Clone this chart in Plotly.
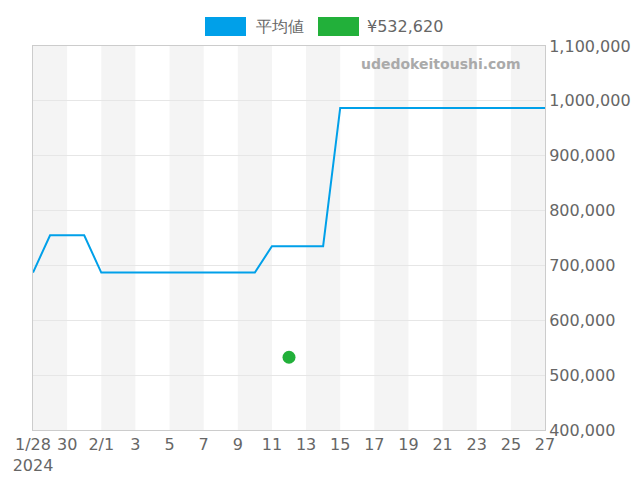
import plotly.graph_objects as go
import pandas as pd

dates = pd.date_range("2024-01-28", "2024-02-27", freq="D")
avg_values = [687000, 755000, 755000, 755000] + [687000]*10 + [735000]*4 + [987000]*13
point_date = ["2024-02-12"]
point_value = [532620]
tick_vals = pd.date_range("2024-01-28", "2024-02-27", freq="2D")
tick_text = ["1/28<br>2024", "30", "2/1"] + [str(d.day) for d in tick_vals[3:]]

L, R, T, B = 25, 537, 38, 422
def px(x): return (x - L) / (R - L)
def py(y): return (B - y) / (B - T)

fig = go.Figure()
fig.add_trace(go.Scatter(x=dates, y=avg_values, mode="lines", name="平均値",
                         line=dict(color="#00a0e9", width=2)))
fig.add_trace(go.Scatter(x=point_date, y=point_value, mode="markers", name="¥532,620",
                         marker=dict(color="#22b03a", size=13)))
shapes = []
for i in range(0, 30, 4):
    s = dates[0] + pd.Timedelta(days=i)
    shapes.append(dict(type="rect", xref="x", yref="paper", x0=s, x1=s + pd.Timedelta(days=2),
                       y0=0, y1=1, fillcolor="#f4f4f4", line_width=0, layer="below"))
for x0, x1, c in [(197, 238, "#00a0e9"), (310, 351, "#22b03a")]:
    shapes.append(dict(type="rect", xref="paper", yref="paper", x0=px(x0), x1=px(x1),
                       y0=py(28), y1=py(9), fillcolor=c, line_width=0))
annotations = [
    dict(text="<b>udedokeitoushi.com</b>", xref="paper", yref="paper", x=px(515), y=py(56),
         xanchor="right", yanchor="middle", showarrow=False, font=dict(size=14, color="#aaa")),
    dict(text="平均値", xref="paper", yref="paper", x=px(246), y=py(19), xanchor="left",
         yanchor="middle", showarrow=False, font=dict(size=16, color="#666")),
    dict(text="¥532,620", xref="paper", yref="paper", x=px(357), y=py(19), xanchor="left",
         yanchor="middle", showarrow=False, font=dict(size=16, color="#666")),
]
fig.update_layout(
    width=640, height=480, paper_bgcolor="white", plot_bgcolor="white",
    margin=dict(l=L, r=640 - R, t=T, b=480 - B, autoexpand=False), shapes=shapes,
    annotations=annotations, showlegend=False,
    font=dict(family="DejaVu Sans", size=16, color="#666"),
    xaxis=dict(range=[dates[0], dates[-1]], tickvals=tick_vals, ticktext=tick_text,
               showgrid=False, showline=True, linecolor="#ccc", mirror=True, ticks="",
               automargin=False),
    yaxis=dict(side="right", range=[400000, 1100000], dtick=100000, tickformat=",",
               gridcolor="#e6e6e6", showline=True, linecolor="#ccc", mirror=True,
               automargin=False),
)
fig.write_html("out.html")
